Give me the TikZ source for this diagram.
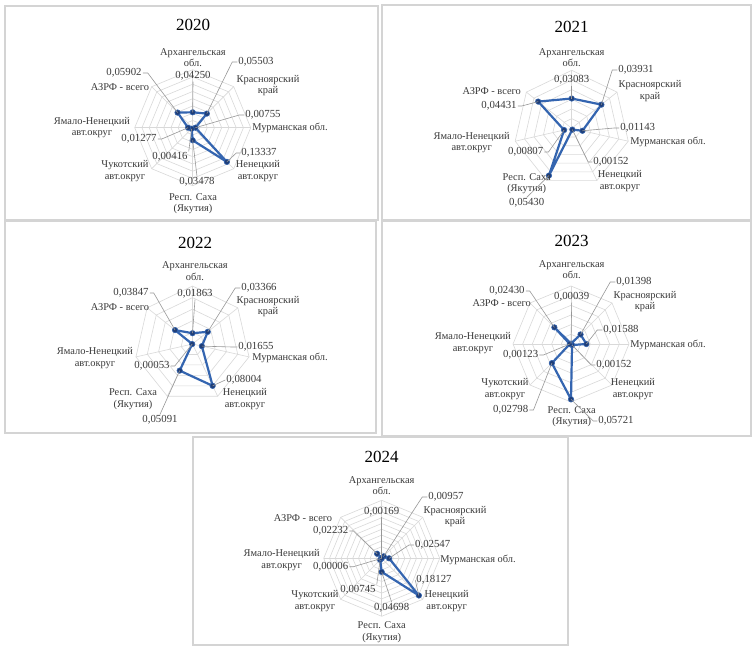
\documentclass[tikz,border=0pt]{standalone}
\usepackage{fontspec}
\setmainfont{Liberation Serif}
\usetikzlibrary{calc}

\definecolor{gridgray}{HTML}{D9D9D9}
\definecolor{framegray}{HTML}{D4D4D4}
\definecolor{leadgray}{HTML}{989898}
\definecolor{serblue}{HTML}{3465B0}
\definecolor{mkblue}{HTML}{1F3E78}
\definecolor{txt}{HTML}{3A3A3A}

\tikzset{
  gridline/.style={draw=gridgray, line width=0.6pt},
  series/.style={draw=serblue, line width=2.2pt, line join=round},
  marker/.style={circle, fill=mkblue, draw=serblue, line width=0.6pt, inner sep=0pt, minimum size=5.5pt},
  catlbl/.style={font=\fontsize{10.4}{11.5}\selectfont, text=txt, align=center, inner sep=0.5pt},
  vallbl/.style={font=\fontsize{10.8}{11.5}\selectfont, text=txt, inner sep=1pt},
  leader/.style={draw=leadgray, line width=0.6pt},
  ttl/.style={font=\fontsize{17}{18}\selectfont, text=black},
  panel/.style={draw=framegray, line width=1.1pt},
}

% #1 id, #2 centre, #3 number of axes, #4 rings, #5 outer radius, #6 axis maximum, #7 values
\newcommand\radarchart[7]{%
  \coordinate (#1c) at #2;
  \pgfmathtruncatemacro\lastaxis{#3-1}%
  \foreach \k in {1,...,#4}{%
    \pgfmathsetmacro\rr{#5*\k/#4}%
    \draw[gridline] ($(#1c)+(0,-\rr)$)
      \foreach \j in {1,...,\lastaxis}{ -- ($(#1c)+({\rr*sin(360*\j/#3)},{-\rr*cos(360*\j/#3)})$)} -- cycle;
  }%
  \foreach \j in {0,...,\lastaxis}{%
    \draw[gridline] (#1c) -- ($(#1c)+({#5*sin(360*\j/#3)},{-#5*cos(360*\j/#3)})$);
  }%
  \foreach \v [count=\j from 0] in {#7}{%
    \coordinate (#1p\j) at ($(#1c)+({\v/#6*#5*sin(360*\j/#3)},{-\v/#6*#5*cos(360*\j/#3)})$);
  }%
  \draw[series] (#1p0) \foreach \j in {1,...,\lastaxis}{ -- (#1p\j)} -- cycle;
  \foreach \j in {0,...,\lastaxis}{\node[marker] (#1m\j) at (#1p\j) {};}%
}

\begin{document}
\begin{tikzpicture}[x=1pt, y=-1pt]
\useasboundingbox[fill=white] (0,0) rectangle (752,645);

% panel frames
\draw[panel] (5,6) rectangle (378,220);
\draw[panel] (382,5) rectangle (751,220);
\draw[panel] (5,221) rectangle (376,433);
\draw[panel] (382,221) rectangle (751,436);
\draw[panel] (193,437) rectangle (568,645);

% ---------- 2020 ----------
\node[ttl] (t20) at (193,25) {2020};
\radarchart{a}{(192.7,127.7)}{8}{8}{58}{0.16}{0.04250,0.05503,0.00755,0.13337,0.03478,0.00416,0.01277,0.05902}
\node[catlbl] (a-c0) at (193,57.5) {Архангельская\\обл.};
\node[catlbl] (a-c1) at (268,85.5) {Красноярский\\край};
\node[catlbl] (a-c2) at (290,128) {Мурманская обл.};
\node[catlbl] (a-c3) at (258,171) {Ненецкий\\авт.округ};
\node[catlbl] (a-c4) at (193,203.5) {Респ. Саха\\(Якутия)};
\node[catlbl] (a-c5) at (125,171) {Чукотский\\авт.округ};
\node[catlbl] (a-c6) at (92,127.5) {Ямало-Ненецкий\\авт.округ};
\node[catlbl] (a-c7) at (120,87) {АЗРФ - всего};
\node[vallbl] (a-v0) at (193,76) {0,04250};
\node[vallbl] (a-v1) at (256,62) {0,05503};
\node[vallbl] (a-v2) at (263,115) {0,00755};
\node[vallbl] (a-v3) at (259,153) {0,13337};
\node[vallbl] (a-v4) at (197,182) {0,03478};
\node[vallbl] (a-v5) at (170,157) {0,00416};
\node[vallbl] (a-v6) at (139,139) {0,01277};
\node[vallbl] (a-v7) at (124,73) {0,05902};
\draw[leader] (a-v0.south) -- (ap0);
\draw[leader] (a-v1.west) -- ++(-5,0) -- (ap1);
\draw[leader] (a-v2.west) -- ++(-5,0) -- (ap2);
\draw[leader] (a-v3.west) -- ++(-4,0) -- (ap3);
\draw[leader] (a-v4.north) -- (ap4);
\draw[leader] (a-v5.north east) -- (ap5);
\draw[leader] (a-v6.east) -- ++(4,0) -- (ap6);
\draw[leader] (a-v7.east) -- ++(5,0) -- (ap7);

% ---------- 2021 ----------
\node[ttl] (t21) at (571.7,27) {2021};
\radarchart{b}{(571.7,128.3)}{7}{6}{58}{0.06}{0.03083,0.03931,0.01143,0.00152,0.05430,0.00807,0.04431}
\node[catlbl] (b-c0) at (571.7,57.5) {Архангельская\\обл.};
\node[catlbl] (b-c1) at (650,91) {Красноярский\\край};
\node[catlbl] (b-c2) at (668,142) {Мурманская обл.};
\node[catlbl] (b-c3) at (620,181) {Ненецкий\\авт.округ};
\node[catlbl] (b-c4) at (526.7,183.5) {Респ. Саха\\(Якутия)};
\node[catlbl] (b-c5) at (471.7,142.5) {Ямало-Ненецкий\\авт.округ};
\node[catlbl] (b-c6) at (491.7,91) {АЗРФ - всего};
\node[vallbl] (b-v0) at (571.7,80) {0,03083};
\node[vallbl] (b-v1) at (636,70) {0,03931};
\node[vallbl] (b-v2) at (637.7,128) {0,01143};
\node[vallbl] (b-v3) at (611,162) {0,00152};
\node[vallbl] (b-v4) at (526.7,203) {0,05430};
\node[vallbl] (b-v5) at (525.7,152) {0,00807};
\node[vallbl] (b-v6) at (499,106) {0,04431};
\draw[leader] (b-v0.south) -- (bp0);
\draw[leader] (b-v1.west) -- ++(-5,0) -- (bp1);
\draw[leader] (b-v2.west) -- ++(-5,0) -- (bp2);
\draw[leader] (b-v3.west) -- ++(-4,0) -- (bp3);
\draw[leader] (b-v4.north) -- (bp4);
\draw[leader] (b-v5.east) -- ++(4,0) -- (bp5);
\draw[leader] (b-v6.east) -- ++(4,0) -- (bp6);

% ---------- 2022 ----------
\node[ttl] (t22) at (195,243) {2022};
\radarchart{c}{(192.5,344)}{7}{5}{58}{0.10}{0.01863,0.03366,0.01655,0.08004,0.05091,0.00053,0.03847}
\node[catlbl] (c-c0) at (195,271) {Архангельская\\обл.};
\node[catlbl] (c-c1) at (268,306.5) {Красноярский\\край};
\node[catlbl] (c-c2) at (290,358) {Мурманская обл.};
\node[catlbl] (c-c3) at (245,399) {Ненецкий\\авт.округ};
\node[catlbl] (c-c4) at (133,399) {Респ. Саха\\(Якутия)};
\node[catlbl] (c-c5) at (95,358) {Ямало-Ненецкий\\авт.округ};
\node[catlbl] (c-c6) at (120,307) {АЗРФ - всего};
\node[vallbl] (c-v0) at (195,294) {0,01863};
\node[vallbl] (c-v1) at (259,288) {0,03366};
\node[vallbl] (c-v2) at (256,347) {0,01655};
\node[vallbl] (c-v3) at (244,380) {0,08004};
\node[vallbl] (c-v4) at (160,420) {0,05091};
\node[vallbl] (c-v5) at (152,366) {0,00053};
\node[vallbl] (c-v6) at (131,293) {0,03847};
\draw[leader] (c-v0.south) -- (cp0);
\draw[leader] (c-v1.west) -- ++(-5,0) -- (cp1);
\draw[leader] (c-v2.west) -- ++(-5,0) -- (cp2);
\draw[leader] (c-v3.west) -- (cp3);
\draw[leader] (c-v4.north) -- (cp4);
\draw[leader] (c-v5.east) -- ++(4,0) -- (cp5);
\draw[leader] (c-v6.east) -- ++(4,0) -- (cp6);

% ---------- 2023 ----------
\node[ttl] (t23) at (571.7,241) {2023};
\radarchart{d}{(571,344)}{8}{6}{58}{0.06}{0.00039,0.01398,0.01588,0.00152,0.05721,0.02798,0.00123,0.02430}
\node[catlbl] (d-c0) at (571.7,269.5) {Архангельская\\обл.};
\node[catlbl] (d-c1) at (645,301.5) {Красноярский\\край};
\node[catlbl] (d-c2) at (668,345) {Мурманская обл.};
\node[catlbl] (d-c3) at (633,389) {Ненецкий\\авт.округ};
\node[catlbl] (d-c4) at (571.7,416.5) {Респ. Саха\\(Якутия)};
\node[catlbl] (d-c5) at (505,389) {Чукотский\\авт.округ};
\node[catlbl] (d-c6) at (473,343) {Ямало-Ненецкий\\авт.округ};
\node[catlbl] (d-c7) at (501.7,303) {АЗРФ - всего};
\node[vallbl] (d-v0) at (571.7,297) {0,00039};
\node[vallbl] (d-v1) at (634,282) {0,01398};
\node[vallbl] (d-v2) at (621,330) {0,01588};
\node[vallbl] (d-v3) at (614,365) {0,00152};
\node[vallbl] (d-v4) at (616,421) {0,05721};
\node[vallbl] (d-v5) at (510.7,410) {0,02798};
\node[vallbl] (d-v6) at (520.7,355) {0,00123};
\node[vallbl] (d-v7) at (507,291) {0,02430};
\draw[leader] (d-v0.south) -- (dp0);
\draw[leader] (d-v1.west) -- ++(-5,0) -- (dp1);
\draw[leader] (d-v2.west) -- ++(-5,0) -- (dp2);
\draw[leader] (d-v3.west) -- ++(-4,0) -- (dp3);
\draw[leader] (d-v4.west) -- ++(-4,0) -- (dp4);
\draw[leader] (d-v5.east) -- ++(4,0) -- (dp5);
\draw[leader] (d-v6.east) -- ++(4,0) -- (dp6);
\draw[leader] (d-v7.east) -- ++(4,0) -- (dp7);

% ---------- 2024 ----------
\node[ttl] (t24) at (381.7,457) {2024};
\radarchart{e}{(381.7,558.3)}{8}{10}{58}{0.20}{0.00169,0.00957,0.02547,0.18127,0.04698,0.00745,0.00006,0.02232}
\node[catlbl] (e-c0) at (381.7,485.5) {Архангельская\\обл.};
\node[catlbl] (e-c1) at (455,516.5) {Красноярский\\край};
\node[catlbl] (e-c2) at (478,560) {Мурманская обл.};
\node[catlbl] (e-c3) at (446.7,601) {Ненецкий\\авт.округ};
\node[catlbl] (e-c4) at (381.7,632.3) {Респ. Саха\\(Якутия)};
\node[catlbl] (e-c5) at (315,601) {Чукотский\\авт.округ};
\node[catlbl] (e-c6) at (281.7,560) {Ямало-Ненецкий\\авт.округ};
\node[catlbl] (e-c7) at (303,517.7) {АЗРФ - всего};
\node[vallbl] (e-v0) at (381.7,511.7) {0,00169};
\node[vallbl] (e-v1) at (446,497) {0,00957};
\node[vallbl] (e-v2) at (432.7,545) {0,02547};
\node[vallbl] (e-v3) at (434,580) {0,18127};
\node[vallbl] (e-v4) at (391.7,608) {0,04698};
\node[vallbl] (e-v5) at (358,590) {0,00745};
\node[vallbl] (e-v6) at (330.7,566.7) {0,00006};
\node[vallbl] (e-v7) at (330.7,531) {0,02232};
\draw[leader] (e-v0.south) -- (ep0);
\draw[leader] (e-v1.west) -- ++(-5,0) -- (ep1);
\draw[leader] (e-v2.west) -- ++(-5,0) -- (ep2);
\draw[leader] (e-v3.west) -- (ep3);
\draw[leader] (e-v4.north) -- (ep4);
\draw[leader] (e-v5.north east) -- (ep5);
\draw[leader] (e-v6.east) -- ++(4,0) -- (ep6);
\draw[leader] (e-v7.east) -- ++(4,0) -- (ep7);
\end{tikzpicture}
\end{document}
